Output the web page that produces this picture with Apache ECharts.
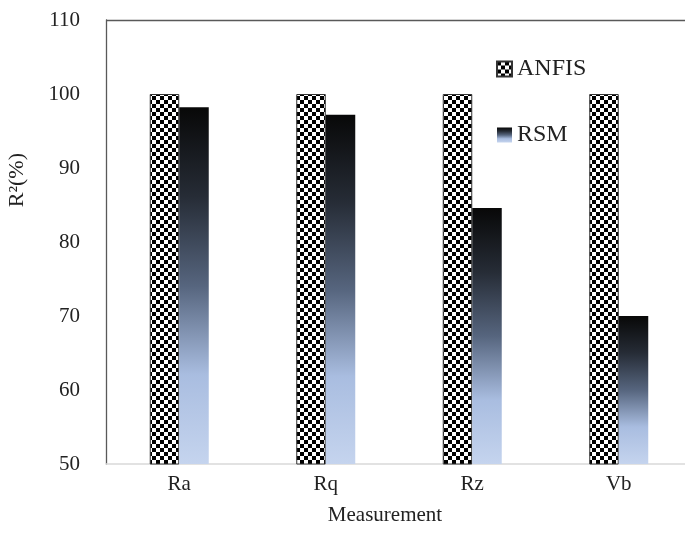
<!DOCTYPE html>
<html><head><meta charset="utf-8">
<script src="https://cdn.jsdelivr.net/npm/echarts@6/dist/echarts.min.js"></script>
<style>html,body{margin:0;padding:0;background:#fff;overflow:hidden}#c{width:692px;height:548px}</style>
</head><body><div id="c"></div>
<script>
const categories = ['Ra', 'Rq', 'Rz', 'Vb'];
const anfis = [100, 100, 100, 100];
const rsm = [98.2, 97.2, 84.6, 70.0];
const yTicks = [50, 60, 70, 80, 90, 100, 110];

function checker(size) {
  const c = document.createElement('canvas');
  c.width = size * 2; c.height = size * 2;
  const g = c.getContext('2d');
  g.fillStyle = '#ffffff'; g.fillRect(0, 0, size * 2, size * 2);
  g.fillStyle = '#000000';
  g.fillRect(0, 0, size, size);
  g.fillRect(size, size, size, size);
  return c;
}
const pat = { image: checker(4), repeat: 'repeat' };
const grad = {
  type: 'linear', x: 0, y: 0, x2: 0, y2: 1,
  colorStops: [
    { offset: 0, color: '#080808' },
    { offset: 0.25, color: '#262c36' },
    { offset: 0.5, color: '#56657e' },
    { offset: 0.75, color: '#a9bde0' },
    { offset: 1, color: '#c5d4ee' }
  ]
};
const FONT = 'Liberation Serif';
const chart = echarts.init(document.getElementById('c'));
chart.setOption({
  animation: false,
  textStyle: { fontFamily: FONT },
  grid: { left: 106, right: 0, top: 20, bottom: 84, show: true, borderWidth: 0 },
  legend: {
    orient: 'vertical', left: 491, top: 52, itemGap: 42, icon: 'rect',
    itemWidth: 15, itemHeight: 15,
    textStyle: { fontFamily: FONT, fontSize: 24, color: '#222', padding: [0, 0, 0, 0] },
    data: ['ANFIS', 'RSM']
  },
  graphic: [
    { type: 'line', shape: { x1: 106, y1: 20.5, x2: 692, y2: 20.5 }, style: { stroke: '#595959', lineWidth: 1.3 } },
    { type: 'text', left: 6, top: 153, rotation: Math.PI / 2, style: { text: 'R²(%)', font: '22px "Liberation Serif"', fill: '#222' } }
  ],
  xAxis: {
    type: 'category', data: categories,
    axisLine: { lineStyle: { color: '#d9d9d9', width: 1.5 } },
    axisTick: { show: false },
    axisLabel: { fontFamily: FONT, fontSize: 21, color: '#222', margin: 10 },
    name: 'Measurement', nameLocation: 'middle', nameGap: 41,
    nameTextStyle: { fontFamily: FONT, fontSize: 21, color: '#222', padding: [0, 28, 0, 0] }
  },
  yAxis: {
    type: 'value', min: 50, max: 110, interval: 10,
    axisLine: { show: true, lineStyle: { color: '#595959', width: 1.3 } },
    axisTick: { show: false },
    splitLine: { show: false },
    axisLabel: { fontFamily: FONT, fontSize: 21, color: '#222', margin: 26,
      formatter: v => yTicks.includes(v) ? String(v) : '' }
  },
  series: [
    { name: 'ANFIS', type: 'bar', data: anfis, barWidth: 29.5, barGap: '0%',
      itemStyle: { color: pat, borderColor: '#333', borderWidth: 1 } },
    { name: 'RSM', type: 'bar', data: rsm, barWidth: 29.5, barGap: '0%',
      itemStyle: { color: grad } }
  ]
});
</script></body></html>
